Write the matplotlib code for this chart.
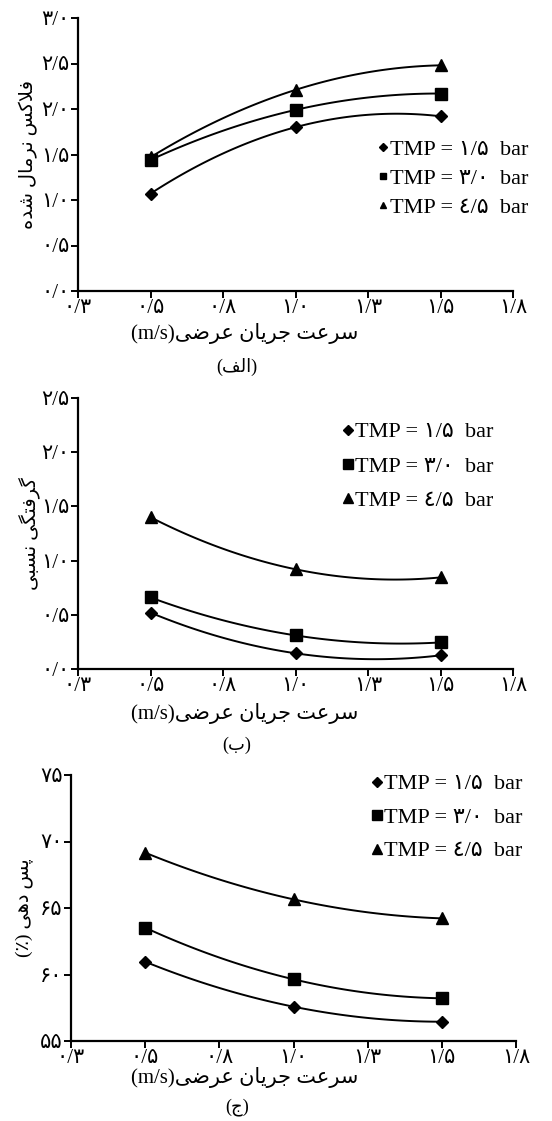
import numpy as np
import matplotlib
matplotlib.use("Agg")
import matplotlib.pyplot as plt
from matplotlib.lines import Line2D

# داده‌ها
sorat = [0.5, 1.0, 1.5]  # سرعت جریان عرضی (m/s)

flux_15 = [1.07, 1.80, 1.92]
flux_30 = [1.44, 1.99, 2.17]
flux_45 = [1.47, 2.21, 2.48]

fouling_15 = [0.52, 0.145, 0.126]
fouling_30 = [0.66, 0.31, 0.245]
fouling_45 = [1.40, 0.92, 0.845]

reject_15 = [60.96, 57.58, 56.45]
reject_30 = [63.52, 59.64, 58.21]
reject_45 = [69.16, 65.65, 64.22]

x_ticks = [0.25, 0.5, 0.75, 1.0, 1.25, 1.5, 1.75]
x_tick_labels = ["۰/۳", "۰/۵", "۰/۸", "۱/۰", "۱/۳", "۱/۵", "۱/۸"]
y1_ticks = [0, 0.5, 1.0, 1.5, 2.0, 2.5, 3.0]
y1_tick_labels = ["۰/۰", "۰/۵", "۱/۰", "۱/۵", "۲/۰", "۲/۵", "۳/۰"]
y2_ticks = [0, 0.5, 1.0, 1.5, 2.0, 2.5]
y2_tick_labels = ["۰/۰", "۰/۵", "۱/۰", "۱/۵", "۲/۰", "۲/۵"]
y3_ticks = [55, 60, 65, 70, 75]
y3_tick_labels = ["۵۵", "۶۰", "۶۵", "۷۰", "۷۵"]
legend_labels = ["TMP = ۱/۵  bar", "TMP = ۳/۰  bar", "TMP = ٤/۵  bar"]
markers = ["D", "s", "^"]

# شکل‌دهی ساده حروف فارسی (matplotlib خودش این کار را نمی‌کند)
FORMS = {
    "ا": ("\uFE8D", "\uFE8E", None, None),
    "ب": ("\uFE8F", "\uFE90", "\uFE91", "\uFE92"),
    "پ": ("\uFB56", "\uFB57", "\uFB58", "\uFB59"),
    "ت": ("\uFE95", "\uFE96", "\uFE97", "\uFE98"),
    "ج": ("\uFE9D", "\uFE9E", "\uFE9F", "\uFEA0"),
    "د": ("\uFEA9", "\uFEAA", None, None),
    "ر": ("\uFEAD", "\uFEAE", None, None),
    "س": ("\uFEB1", "\uFEB2", "\uFEB3", "\uFEB4"),
    "ش": ("\uFEB5", "\uFEB6", "\uFEB7", "\uFEB8"),
    "ض": ("\uFEBD", "\uFEBE", "\uFEBF", "\uFEC0"),
    "ع": ("\uFEC9", "\uFECA", "\uFECB", "\uFECC"),
    "ف": ("\uFED1", "\uFED2", "\uFED3", "\uFED4"),
    "ک": ("\uFB8E", "\uFB8F", "\uFB90", "\uFB91"),
    "گ": ("\uFB92", "\uFB93", "\uFB94", "\uFB95"),
    "ل": ("\uFEDD", "\uFEDE", "\uFEDF", "\uFEE0"),
    "م": ("\uFEE1", "\uFEE2", "\uFEE3", "\uFEE4"),
    "ن": ("\uFEE5", "\uFEE6", "\uFEE7", "\uFEE8"),
    "ه": ("\uFEE9", "\uFEEA", "\uFEEB", "\uFEEC"),
    "ی": ("\uFBFC", "\uFBFD", "\uFBFE", "\uFBFF"),
}


def fa(text):
    out = []
    i = 0
    while i < len(text):
        c = text[i]
        if c not in FORMS:
            out.append(c)
            i += 1
            continue
        prev = text[i - 1] if i > 0 else None
        joins_prev = prev in FORMS and FORMS[prev][2] is not None
        if c == "ل" and i + 1 < len(text) and text[i + 1] == "ا":
            out.append("\uFEFC" if joins_prev else "\uFEFB")
            i += 2
            continue
        nxt = text[i + 1] if i + 1 < len(text) else None
        joins_next = FORMS[c][2] is not None and nxt in FORMS
        iso, fin, ini, med = FORMS[c]
        if joins_prev and joins_next:
            out.append(med)
        elif joins_prev:
            out.append(fin)
        elif joins_next:
            out.append(ini)
        else:
            out.append(iso)
        i += 1
    return "".join(reversed(out))


plt.rcParams["font.family"] = ["Liberation Serif", "DejaVu Sans"]

W, H = 552, 1121
fig = plt.figure(figsize=(W / 100, H / 100), dpi=100)


def px_axes(left, top, right, bottom):
    return fig.add_axes([left / W, 1 - bottom / H, (right - left) / W, (bottom - top) / H])


ax1 = px_axes(78, 18, 513, 291)
ax2 = px_axes(78, 398, 513, 669)
ax3 = px_axes(71, 775, 516, 1041)

panels = [
    (ax1, [flux_15, flux_30, flux_45], (0, 3), y1_ticks, y1_tick_labels,
     fa("فلاکس نرمال شده"), (0.688, 0.555), 0.37, 5, 28, 333, "(" + fa("الف") + ")", 367),
    (ax2, [fouling_15, fouling_30, fouling_45], (0, 2.5), y2_ticks, y2_tick_labels,
     fa("گرفتگی نسبی"), (0.609, 0.912), 0.62, 6.5, 30, 713, "(" + fa("ب") + ")", 745),
    (ax3, [reject_15, reject_30, reject_45], (55, 75), y3_ticks, y3_tick_labels,
     "(٪) " + fa("پس دهی"), (0.675, 1.004), 0.58, 6.5, 24, 1077, "(" + fa("ج") + ")", 1107),
]

xs = np.linspace(0.5, 1.5, 100)
for (ax, series, ylim, yt, ytl, ylab, leg_pos, leg_sp, leg_ms,
     ylab_x, xlab_y, cap, cap_y) in panels:
    for vals, m in zip(series, markers):
        coef = np.polyfit(sorat, vals, 2)
        ax.plot(xs, np.polyval(coef, xs), color="black", lw=1.4)
        ax.plot(sorat, vals, m, color="black", ms=8 if m != "D" else 6.5)
    ax.set_xlim(0.25, 1.75)
    ax.set_ylim(*ylim)
    ax.set_xticks(x_ticks)
    ax.set_xticklabels(x_tick_labels)
    ax.set_yticks(yt)
    ax.set_yticklabels(ytl)
    for s in ["top", "right"]:
        ax.spines[s].set_visible(False)
    for s in ["left", "bottom"]:
        ax.spines[s].set_linewidth(1.6)
    ax.tick_params(direction="out", length=5, width=1.4, labelsize=15, pad=1)
    ax.patch.set_alpha(0)

    handles = [Line2D([], [], ls="none", marker=m, color="black",
                      ms=leg_ms if m != "D" else leg_ms - 1)
               for m in markers]
    ax.legend(handles, legend_labels, loc="upper left", bbox_to_anchor=leg_pos,
              frameon=False, fontsize=16, handlelength=0.5, handletextpad=0.05,
              labelspacing=leg_sp, borderpad=0, borderaxespad=0)

    y_mid = ax.get_position().y0 + ax.get_position().height / 2
    fig.text(ylab_x / W, y_mid, ylab, rotation=90, ha="center", va="center", fontsize=14)
    fig.text(245 / W, 1 - xlab_y / H, "(m/s)" + fa("سرعت جریان عرضی"),
             ha="center", va="center", fontsize=15)
    fig.text(237 / W, 1 - cap_y / H, cap, ha="center", va="center", fontsize=13)

fig.savefig("out.png", dpi=100)
